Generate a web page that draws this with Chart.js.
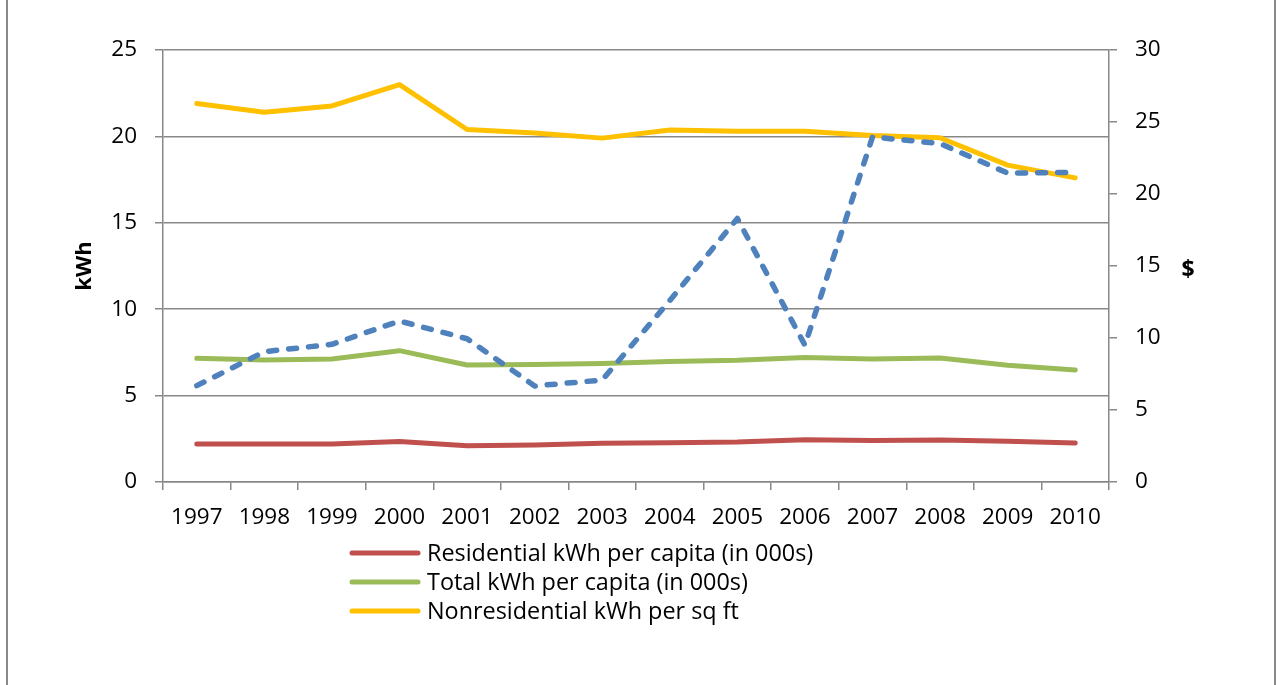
<!DOCTYPE html>
<html>
<head>
<meta charset="utf-8">
<script src="https://cdn.jsdelivr.net/npm/chart.js@4.4.0/dist/chart.umd.min.js"></script>
<style>
  html, body { margin: 0; padding: 0; background: #fff; }
  canvas { display: block; }
</style>
</head>
<body>
<canvas id="chart" width="1276" height="685"></canvas>
<script>
// Years on the category axis
const years = ['1997', '1998', '1999', '2000', '2001', '2002', '2003',
               '2004', '2005', '2006', '2007', '2008', '2009', '2010'];

// kWh series (left axis)
const residentialPerCapita = [2.2, 2.2, 2.2, 2.35, 2.1, 2.14, 2.24, 2.27, 2.31, 2.45, 2.4, 2.43, 2.36, 2.25];
const totalPerCapita       = [7.16, 7.06, 7.12, 7.6, 6.77, 6.8, 6.86, 6.98, 7.04, 7.21, 7.12, 7.18, 6.75, 6.48];
const nonresidentialPerSqFt = [21.9, 21.4, 21.76, 23.0, 20.4, 20.2, 19.9, 20.37, 20.3, 20.3, 20.05, 19.92, 18.34, 17.6];

// Dollar series (right axis)
const dollars = [6.69, 9.05, 9.56, 11.18, 9.95, 6.67, 7.08, 12.6, 18.3, 9.5, 23.96, 23.5, 21.45, 21.5];

// Axis tick values
const kwhTicks = [0, 5, 10, 15, 20, 25];
const dollarTicks = [0, 5, 10, 15, 20, 25, 30];

const FONT = "'Open Sans', 'Noto Sans', sans-serif";
const GRID = '#888888';

// Frame lines at the sides of the figure
const framePlugin = {
  id: 'frame',
  beforeDraw(chart) {
    const ctx = chart.ctx;
    ctx.save();
    ctx.fillStyle = '#ffffff';
    ctx.fillRect(0, 0, chart.width, chart.height);
    ctx.strokeStyle = '#898989';
    ctx.lineWidth = 2;
    ctx.beginPath();
    ctx.moveTo(7, 0); ctx.lineTo(7, chart.height);
    ctx.moveTo(1275, 0); ctx.lineTo(1275, chart.height);
    ctx.stroke();
    ctx.restore();
  }
};

// Upright title for the right-hand axis
const uprightTitle = {
  id: 'uprightTitle',
  afterDraw(chart, args, opts) {
    const scale = chart.scales[opts.scaleId];
    const ctx = chart.ctx;
    ctx.save();
    ctx.fillStyle = '#000';
    ctx.font = opts.font;
    ctx.textAlign = 'center';
    ctx.textBaseline = 'middle';
    ctx.fillText(opts.text, scale.right - opts.offset, (chart.chartArea.top + chart.chartArea.bottom) / 2 + 4);
    ctx.restore();
  }
};

// Stacked legend below the axis, one row per dataset that opts in
const stackedLegend = {
  id: 'stackedLegend',
  afterDraw(chart, args, opts) {
    const ctx = chart.ctx;
    let y = opts.top;
    ctx.save();
    chart.data.datasets.forEach(ds => {
      if (ds.inLegend === false) return;
      ctx.strokeStyle = ds.borderColor;
      ctx.lineWidth = 5;
      ctx.lineCap = 'round';
      ctx.beginPath();
      ctx.moveTo(opts.lineStart, y);
      ctx.lineTo(opts.lineEnd, y);
      ctx.stroke();
      ctx.fillStyle = '#000';
      ctx.font = opts.font;
      ctx.textBaseline = 'middle';
      ctx.textAlign = 'left';
      ctx.fillText(ds.label, opts.textX, y + 1);
      y += opts.rowHeight;
    });
    ctx.restore();
  }
};

const lineStyle = {
  borderWidth: 5,
  pointRadius: 0,
  pointHoverRadius: 0,
  tension: 0,
  borderJoinStyle: 'round',
  borderCapStyle: 'round',
  fill: false
};

new Chart(document.getElementById('chart'), {
  type: 'line',
  data: {
    labels: years,
    datasets: [
      Object.assign({ label: 'Residential kWh per capita (in 000s)', data: residentialPerCapita,
        borderColor: '#C0504D', yAxisID: 'kwh', order: 3 }, lineStyle),
      Object.assign({ label: 'Total kWh per capita (in 000s)', data: totalPerCapita,
        borderColor: '#9BBB59', yAxisID: 'kwh', order: 2 }, lineStyle),
      Object.assign({ label: 'Nonresidential kWh per sq ft', data: nonresidentialPerSqFt,
        borderColor: '#FFC000', yAxisID: 'kwh', order: 1 }, lineStyle),
      Object.assign({}, lineStyle, { label: '$', data: dollars, borderColor: '#4F81BD', yAxisID: 'usd',
        order: 0, borderDash: [8, 12], borderWidth: 5.5, inLegend: false })
    ]
  },
  options: {
    responsive: false,
    animation: false,
    devicePixelRatio: 1,
    layout: { padding: { left: 0, right: 0, top: 50, bottom: 150 } },
    plugins: {
      legend: { display: false },
      tooltip: { enabled: false },
      uprightTitle: { scaleId: 'usd', text: '$', offset: 88, font: "bold 23px " + FONT },
      stackedLegend: {
        top: 553, rowHeight: 29, lineStart: 352, lineEnd: 418, textX: 427,
        font: "23.4px " + FONT
      }
    },
    scales: {
      x: {
        type: 'category',
        offset: true,
        grid: { offset: true, drawOnChartArea: false, drawTicks: true, tickLength: 8,
                color: GRID, lineWidth: 1.5 },
        border: { display: true, color: GRID, width: 1.5 },
        ticks: { color: '#000', font: { family: FONT, size: 22.5 }, padding: 14,
                 maxRotation: 0, autoSkip: false },
        afterFit(scale) { scale.height = 53; }
      },
      kwh: {
        position: 'left',
        min: kwhTicks[0],
        max: kwhTicks[kwhTicks.length - 1],
        afterBuildTicks(scale) { scale.ticks = kwhTicks.map(v => ({ value: v })); },
        grid: { color: GRID, lineWidth: 1.5, tickLength: 8 },
        border: { display: true, color: GRID, width: 1.5 },
        ticks: { color: '#000', font: { family: FONT, size: 22.5 }, padding: 18 },
        title: { display: true, text: 'kWh', color: '#000',
                 font: { family: FONT, size: 22, weight: 'bold' }, padding: { top: 72 } },
        afterFit(scale) { scale.width = 163; }
      },
      usd: {
        position: 'right',
        min: dollarTicks[0],
        max: dollarTicks[dollarTicks.length - 1],
        afterBuildTicks(scale) { scale.ticks = dollarTicks.map(v => ({ value: v })); },
        grid: { drawOnChartArea: false, color: GRID, lineWidth: 1.5, tickLength: 8 },
        border: { display: true, color: GRID, width: 1.5 },
        ticks: { color: '#000', font: { family: FONT, size: 22.5 }, padding: 18 },
        afterFit(scale) { scale.width = 167; }
      }
    }
  },
  plugins: [framePlugin, uprightTitle, stackedLegend]
});
</script>
</body>
</html>
